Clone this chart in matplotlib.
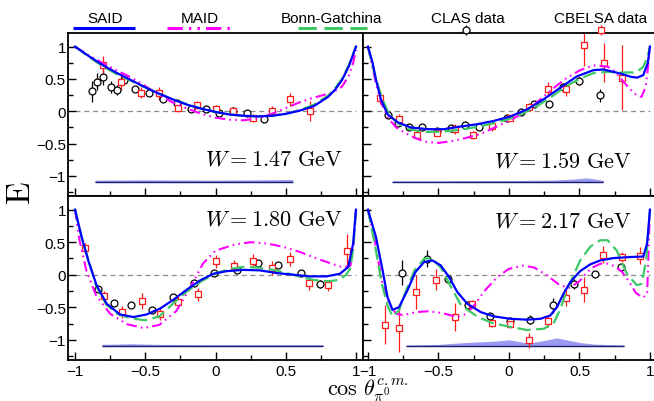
import numpy as np
import matplotlib
matplotlib.use("Agg")
import matplotlib.pyplot as plt
from matplotlib.ticker import MultipleLocator, FuncFormatter

# ---------------- data ----------------
W_LABELS = ["1.47", "1.59", "1.80", "2.17"]
LEGEND_LABELS = ["SAID", "MAID", "Bonn-Gatchina", "CLAS data", "CBELSA data"]
SYST_BASE = -1.1

# W = 1.47 GeV
SAID_147_X = [-1, -0.9, -0.8, -0.7, -0.6, -0.5, -0.4, -0.3, -0.2, -0.1, 0, 0.1, 0.2, 0.3, 0.4, 0.5, 0.6, 0.7, 0.8, 0.85, 0.9, 0.95, 1.0]
SAID_147_Y = [1.0, 0.85, 0.71, 0.59, 0.48, 0.37, 0.27, 0.18, 0.10, 0.04, -0.01, -0.05, -0.07, -0.08, -0.07, -0.04, 0.01, 0.08, 0.22, 0.33, 0.48, 0.70, 1.0]
MAID_147_X = [-1, -0.9, -0.8, -0.7, -0.6, -0.5, -0.4, -0.3, -0.2, -0.1, 0, 0.1, 0.2, 0.3, 0.4, 0.5, 0.6, 0.7, 0.8, 0.85, 0.9, 0.95, 0.98, 1.0]
MAID_147_Y = [1.0, 0.86, 0.74, 0.63, 0.52, 0.39, 0.25, 0.13, 0.04, -0.04, -0.10, -0.13, -0.14, -0.11, -0.04, 0.05, 0.14, 0.21, 0.27, 0.31, 0.38, 0.55, 0.75, 0.95]
BNGA_147_X = [-1, -0.9, -0.8, -0.7, -0.6, -0.5, -0.4, -0.3, -0.2, -0.1, 0, 0.1, 0.2, 0.3, 0.4, 0.5, 0.6, 0.7, 0.8, 0.85, 0.9, 0.95, 1.0]
BNGA_147_Y = [1.0, 0.84, 0.69, 0.57, 0.47, 0.37, 0.27, 0.18, 0.11, 0.04, -0.01, -0.05, -0.07, -0.08, -0.07, -0.04, 0.02, 0.10, 0.24, 0.35, 0.50, 0.72, 1.0]
CLAS_147_X = [-0.881, -0.841, -0.798, -0.746, -0.699, -0.651, -0.573, -0.473, -0.376, -0.276, -0.177, -0.07, 0.025, 0.127, 0.222, 0.345]
CLAS_147_Y = [0.31, 0.457, 0.528, 0.38, 0.328, 0.48, 0.338, 0.277, 0.185, 0.13, 0.03, 0.04, -0.02, 0.005, -0.02, -0.123]
CLAS_147_E = [0.16, 0.13, 0.12, 0.09, 0.08, 0.05, 0.04, 0.03, 0.03, 0.03, 0.03, 0.03, 0.03, 0.03, 0.03, 0.03]
CB_147_X = [-0.798, -0.67, -0.532, -0.40, -0.265, -0.13, 0.004, 0.127, 0.269, 0.40, 0.53, 0.673]
CB_147_Y = [0.72, 0.45, 0.288, 0.28, 0.056, 0.092, 0.04, 0.005, -0.10, 0.005, 0.185, 0.005]
CB_147_E = [0.14, 0.12, 0.08, 0.10, 0.06, 0.06, 0.06, 0.05, 0.06, 0.07, 0.10, 0.15]
SYST_147_X = [-0.858, -0.5, 0.0, 0.3, 0.549]
SYST_147_Y = [0.035, 0.04, 0.035, 0.04, 0.045]

# W = 1.59 GeV
SAID_159_X = [-1, -0.967, -0.943, -0.908, -0.861, -0.79, -0.696, -0.578, -0.46, -0.343, -0.225, -0.107, 0.011, 0.129, 0.246, 0.364, 0.482, 0.6, 0.67, 0.788, 0.87, 0.91, 0.953, 0.985, 1.0]
SAID_159_Y = [1.0, 0.75, 0.49, 0.185, -0.046, -0.17, -0.25, -0.277, -0.277, -0.236, -0.2, -0.149, -0.08, 0.03, 0.185, 0.364, 0.54, 0.636, 0.646, 0.585, 0.53, 0.52, 0.56, 0.75, 1.0]
MAID_159_X = [-1, -0.97, -0.94, -0.9, -0.85, -0.8, -0.7, -0.6, -0.5, -0.4, -0.3, -0.2, -0.1, 0.0, 0.1, 0.2, 0.3, 0.4, 0.5, 0.6, 0.7, 0.75, 0.8, 0.85, 0.9, 0.94, 0.97, 0.99, 1.0]
MAID_159_Y = [1.0, 0.70, 0.40, 0.10, -0.12, -0.25, -0.38, -0.47, -0.49, -0.46, -0.41, -0.35, -0.25, -0.15, -0.03, 0.14, 0.33, 0.50, 0.63, 0.71, 0.69, 0.62, 0.49, 0.36, 0.26, 0.22, 0.38, 0.75, 1.0]
BNGA_159_X = [-1, -0.97, -0.94, -0.9, -0.85, -0.78, -0.7, -0.6, -0.5, -0.4, -0.3, -0.2, -0.1, 0.0, 0.1, 0.2, 0.3, 0.4, 0.5, 0.6, 0.7, 0.8, 0.9, 0.95, 0.98, 1.0]
BNGA_159_Y = [1.0, 0.72, 0.47, 0.20, -0.05, -0.20, -0.28, -0.32, -0.32, -0.30, -0.27, -0.23, -0.18, -0.12, -0.03, 0.08, 0.22, 0.38, 0.50, 0.59, 0.61, 0.60, 0.60, 0.68, 0.82, 1.0]
CLAS_159_X = [-0.856, -0.79, -0.708, -0.614, -0.512, -0.41, -0.315, -0.213, -0.013, 0.086, 0.18, 0.281, 0.38, 0.50, 0.647]
CLAS_159_Y = [-0.06, -0.185, -0.24, -0.25, -0.30, -0.26, -0.21, -0.24, -0.11, -0.01, 0.12, 0.12, 0.38, 0.47, 0.25]
CLAS_159_E = [0.03, 0.03, 0.03, 0.03, 0.03, 0.03, 0.03, 0.03, 0.03, 0.03, 0.03, 0.04, 0.05, 0.06, 0.10]
CB_159_X = [-0.913, -0.779, -0.654, -0.512, -0.385, -0.256, -0.119, 0.011, 0.14, 0.274, 0.404, 0.534, 0.675, 0.804]
CB_159_Y = [0.21, -0.123, -0.37, -0.33, -0.27, -0.37, -0.23, -0.10, 0.07, 0.35, 0.34, 1.03, 0.75, 0.52]
CB_159_E = [0.10, 0.08, 0.06, 0.06, 0.08, 0.06, 0.08, 0.05, 0.06, 0.11, 0.10, 0.33, 0.30, 0.50]
SYST_159_X = [-0.826, -0.5, 0.0, 0.3, 0.45, 0.55, 0.62, 0.67]
SYST_159_Y = [0.025, 0.025, 0.03, 0.035, 0.05, 0.07, 0.05, 0.03]

# W = 1.80 GeV
SAID_180_X = [-1, -0.953, -0.906, -0.846, -0.775, -0.68, -0.585, -0.49, -0.395, -0.3, -0.205, -0.11, -0.016, 0.079, 0.198, 0.317, 0.435, 0.554, 0.673, 0.79, 0.886, 0.945, 0.98, 1.0]
SAID_180_Y = [1.0, 0.58, 0.22, -0.164, -0.446, -0.61, -0.65, -0.61, -0.52, -0.385, -0.23, -0.087, 0.015, 0.055, 0.075, 0.067, 0.026, 0.0, -0.025, -0.025, 0.015, 0.12, 0.48, 1.0]
MAID_180_X = [-1, -0.97, -0.92, -0.85, -0.75, -0.63, -0.51, -0.4, -0.28, -0.18, -0.09, 0.0, 0.13, 0.25, 0.37, 0.48, 0.6, 0.72, 0.84, 0.91, 0.96, 0.98, 1.0]
MAID_180_Y = [1.0, 0.55, 0.07, -0.32, -0.60, -0.76, -0.82, -0.77, -0.56, -0.20, 0.17, 0.37, 0.46, 0.50, 0.48, 0.43, 0.35, 0.25, 0.16, 0.11, 0.14, 0.37, 1.0]
BNGA_180_X = [-1, -0.95, -0.9, -0.85, -0.78, -0.7, -0.6, -0.5, -0.4, -0.3, -0.2, -0.1, 0.0, 0.1, 0.2, 0.3, 0.4, 0.5, 0.6, 0.7, 0.8, 0.88, 0.93, 0.96, 0.98, 1.0]
BNGA_180_Y = [1.0, 0.55, 0.20, -0.17, -0.45, -0.60, -0.67, -0.70, -0.64, -0.44, -0.25, -0.10, 0.02, 0.09, 0.12, 0.11, 0.08, 0.03, -0.03, -0.08, -0.10, -0.08, 0.0, 0.10, 0.40, 1.0]
CLAS_180_X = [-0.834, -0.722, -0.601, -0.45, -0.30, -0.151, -0.008, 0.155, 0.30, 0.447, 0.606, 0.744]
CLAS_180_Y = [-0.215, -0.43, -0.47, -0.54, -0.34, -0.123, 0.026, 0.077, 0.185, 0.144, 0.026, -0.138]
CLAS_180_E = [0.03, 0.03, 0.03, 0.03, 0.03, 0.03, 0.03, 0.03, 0.03, 0.03, 0.04, 0.06]
CB_180_X = [-0.929, -0.791, -0.668, -0.525, -0.395, -0.265, -0.127, 0.004, 0.132, 0.269, 0.40, 0.53, 0.668, 0.803, 0.934]
CB_180_Y = [0.415, -0.32, -0.57, -0.405, -0.60, -0.42, -0.30, 0.205, 0.13, 0.215, 0.108, 0.246, -0.128, -0.164, 0.364]
CB_180_E = [0.08, 0.07, 0.09, 0.12, 0.10, 0.09, 0.10, 0.10, 0.09, 0.10, 0.11, 0.11, 0.10, 0.09, 0.26]
SYST_180_X = [-0.81, -0.6, -0.4, 0.0, 0.4, 0.767]
SYST_180_Y = [0.03, 0.04, 0.03, 0.025, 0.025, 0.025]

# W = 2.17 GeV
SAID_217_X = [-1, -0.943, -0.896, -0.861, -0.826, -0.78, -0.72, -0.664, -0.602, -0.543, -0.484, -0.425, -0.366, -0.295, -0.2, -0.107, 0.011, 0.129, 0.223, 0.293, 0.34, 0.387, 0.435, 0.505, 0.576, 0.647, 0.74, 0.859, 0.953, 0.98, 1.0]
SAID_217_Y = [1.0, 0.58, 0.067, -0.343, -0.54, -0.50, -0.24, 0.04, 0.195, 0.22, 0.144, -0.036, -0.266, -0.446, -0.574, -0.64, -0.677, -0.69, -0.677, -0.626, -0.50, -0.29, -0.113, 0.056, 0.159, 0.22, 0.256, 0.272, 0.28, 0.48, 1.0]
MAID_217_X = [-1, -0.95, -0.9, -0.85, -0.8, -0.75, -0.66, -0.57, -0.47, -0.37, -0.3, -0.25, -0.17, -0.08, 0.0, 0.1, 0.18, 0.27, 0.36, 0.43, 0.5, 0.55, 0.6, 0.65, 0.7, 0.75, 0.8, 0.85, 0.9, 0.95, 0.98, 1.0]
MAID_217_Y = [1.0, 0.5, -0.1, -0.45, -0.60, -0.62, -0.575, -0.56, -0.59, -0.65, -0.60, -0.48, -0.24, -0.03, 0.09, 0.14, 0.11, -0.01, -0.16, -0.20, -0.10, 0.03, 0.12, 0.17, 0.17, 0.13, 0.05, -0.10, -0.28, -0.35, -0.30, 1.0]
BNGA_217_X = [-1, -0.95, -0.9, -0.86, -0.826, -0.78, -0.74, -0.67, -0.6, -0.543, -0.48, -0.41, -0.34, -0.22, -0.107, 0.011, 0.129, 0.246, 0.316, 0.364, 0.41, 0.458, 0.505, 0.576, 0.647, 0.7, 0.765, 0.836, 0.906, 0.94, 0.973, 1.0]
BNGA_217_Y = [1.0, 0.45, -0.15, -0.48, -0.64, -0.55, -0.30, 0.067, 0.25, 0.25, 0.10, -0.19, -0.47, -0.65, -0.75, -0.80, -0.85, -0.83, -0.75, -0.53, -0.24, -0.01, 0.22, 0.43, 0.53, 0.53, 0.37, 0.015, -0.16, -0.14, 0.22, 1.0]
CLAS_217_X = [-0.755, -0.578, -0.432, -0.291, -0.136, 0.011, 0.147, 0.312, 0.458, 0.607, 0.793]
CLAS_217_Y = [0.03, 0.246, -0.06, -0.46, -0.64, -0.71, -0.69, -0.47, -0.138, 0.015, 0.118]
CLAS_217_E = [0.19, 0.13, 0.07, 0.05, 0.05, 0.05, 0.07, 0.12, 0.08, 0.05, 0.05]
CB_217_X = [-0.88, -0.783, -0.662, -0.515, -0.385, -0.26, -0.119, 0.011, 0.14, 0.277, 0.406, 0.534, 0.67, 0.804, 0.929]
CB_217_Y = [-0.77, -0.82, -0.266, -0.077, -0.65, -0.446, -0.74, -0.76, -1.01, -0.718, -0.354, -0.23, 0.308, 0.272, 0.29]
CB_217_E = [0.30, 0.36, 0.26, 0.16, 0.21, 0.06, 0.07, 0.06, 0.11, 0.09, 0.13, 0.19, 0.13, 0.07, 0.13]
SYST_217_X = [-0.731, -0.5, -0.3, -0.1, 0.0, 0.14, 0.25, 0.34, 0.5, 0.6, 0.816]
SYST_217_Y = [0.02, 0.03, 0.06, 0.08, 0.10, 0.05, 0.09, 0.13, 0.06, 0.035, 0.02]

PANELS = [
    (SAID_147_X, SAID_147_Y, MAID_147_X, MAID_147_Y, BNGA_147_X, BNGA_147_Y,
     CLAS_147_X, CLAS_147_Y, CLAS_147_E, CB_147_X, CB_147_Y, CB_147_E, SYST_147_X, SYST_147_Y),
    (SAID_159_X, SAID_159_Y, MAID_159_X, MAID_159_Y, BNGA_159_X, BNGA_159_Y,
     CLAS_159_X, CLAS_159_Y, CLAS_159_E, CB_159_X, CB_159_Y, CB_159_E, SYST_159_X, SYST_159_Y),
    (SAID_180_X, SAID_180_Y, MAID_180_X, MAID_180_Y, BNGA_180_X, BNGA_180_Y,
     CLAS_180_X, CLAS_180_Y, CLAS_180_E, CB_180_X, CB_180_Y, CB_180_E, SYST_180_X, SYST_180_Y),
    (SAID_217_X, SAID_217_Y, MAID_217_X, MAID_217_Y, BNGA_217_X, BNGA_217_Y,
     CLAS_217_X, CLAS_217_Y, CLAS_217_E, CB_217_X, CB_217_Y, CB_217_E, SYST_217_X, SYST_217_Y),
]

# ---------------- style ----------------
plt.rcParams['font.family'] = ['Liberation Sans', 'DejaVu Sans']
plt.rcParams['mathtext.fontset'] = 'cm'
plt.rcParams['axes.unicode_minus'] = True

C_SAID = '#0000ff'
C_MAID = '#ff00ff'
C_BNGA = '#3cc864'
MAID_DASH = (5, 2, 0.8, 2, 0.8, 2)
BNGA_DASH = (6, 2.5)

FW, FH = 654, 402
fig = plt.figure(figsize=(FW / 100, FH / 100), dpi=100, facecolor='white')


def add_ax(x0, y0, x1, y1):
    return fig.add_axes([x0 / FW, 1 - y1 / FH, (x1 - x0) / FW, (y1 - y0) / FH])


boxes = [(68, 34, 363, 197), (363, 34, 657, 197), (68, 197, 363, 361), (363, 197, 657, 361)]
xlims = [(-1.05, 1.05), (-1.035, 1.05), (-1.05, 1.05), (-1.035, 1.05)]
label_pos = [(0.929, 0.196), (0.915, 0.184), (0.929, 0.829), (0.915, 0.811)]

fmt = FuncFormatter(lambda v, p: ('%g' % v).replace('-', '\u2212'))

for i, (box, data) in enumerate(zip(boxes, PANELS)):
    (sx, sy, mx, my, bx, by, cx, cy, ce, kx, ky, ke, tx, ty) = data
    ax = add_ax(*box)
    ax.set_xlim(*xlims[i])
    ax.set_ylim(-1.31, 1.21)
    for sp in ax.spines.values():
        sp.set_linewidth(1.3)
    ax.xaxis.set_major_locator(MultipleLocator(0.5))
    ax.xaxis.set_minor_locator(MultipleLocator(0.25))
    ax.yaxis.set_major_locator(MultipleLocator(0.5))
    ax.yaxis.set_minor_locator(MultipleLocator(0.25))
    ax.tick_params(which='both', direction='in', top=False, right=False,
                   labelsize=11, width=1.0, colors='black')
    ax.tick_params(which='major', length=6.0)
    ax.tick_params(which='minor', length=3.6)
    ax.tick_params(axis='y', pad=1.5)
    ax.tick_params(axis='x', pad=3)
    ax.xaxis.set_major_formatter(fmt)
    ax.yaxis.set_major_formatter(fmt)
    if i < 2:
        ax.tick_params(axis='x', labelbottom=False)
    if i % 2 == 1:
        ax.tick_params(axis='y', labelleft=False)

    # zero line
    ax.hlines(0, -1, 1, colors='#8c8c8c', linestyles=(0, (4, 3)), linewidth=0.9, zorder=1)

    # systematic band
    ty_top = [SYST_BASE + v for v in ty]
    ax.fill_between(tx, SYST_BASE, ty_top, color='#9a9aee', linewidth=0, zorder=1)
    ax.hlines(SYST_BASE, tx[0], tx[-1], colors='#1a1a70', linewidth=1.0, zorder=1.5)

    # data
    ax.errorbar(cx, cy, yerr=ce, fmt='o', ms=5, mfc='white', mec='black', mew=0.9,
                ecolor='black', elinewidth=0.9, capsize=0, zorder=2)
    ax.errorbar(kx, ky, yerr=ke, fmt='s', ms=5, mfc='white', mec='#ff1a1a', mew=0.9,
                ecolor='#ff1a1a', elinewidth=0.9, capsize=0, zorder=2)

    # models
    ax.plot(mx, my, color=C_MAID, lw=1.5, dashes=MAID_DASH, zorder=3)
    ax.plot(bx, by, color=C_BNGA, lw=1.6, dashes=BNGA_DASH, zorder=3.5)
    ax.plot(sx, sy, color=C_SAID, lw=1.6, zorder=4)

    ax.text(label_pos[i][0], label_pos[i][1], r'$W = %s\ \mathrm{GeV}$' % W_LABELS[i],
            transform=ax.transAxes, ha='right', va='baseline', fontsize=16, zorder=6)

# axis titles
fig.text(22 / FW, 1 - 193 / FH, r'$\mathrm{E}$', rotation=90, fontsize=24,
         ha='center', va='center')
fig.text(327 / FW, 1 - 396 / FH, r'$\cos\,\theta^{c.m.}_{\pi^{0}}$', fontsize=16,
         ha='left', va='baseline')

# legend overlay
lg = fig.add_axes([0, 0, 1, 1], zorder=10)
lg.set_xlim(0, FW)
lg.set_ylim(FH, 0)
lg.axis('off')
lg.patch.set_visible(False)
ly = 29
lg.plot([73, 135], [ly, ly], color=C_SAID, lw=2.2, solid_capstyle='butt')
lg.plot([167, 230], [ly, ly], color=C_MAID, lw=2.2, dashes=MAID_DASH)
lg.plot([298, 367], [ly, ly], color=C_BNGA, lw=2.2, dashes=BNGA_DASH)
lg.errorbar([466], [31], yerr=[5], fmt='o', ms=5, mfc='white', mec='black', mew=0.9,
            ecolor='black', elinewidth=0.9, capsize=0)
lg.errorbar([601], [31], yerr=[5], fmt='s', ms=5, mfc='white', mec='#ff1a1a', mew=0.9,
            ecolor='#ff1a1a', elinewidth=0.9, capsize=0)
for lab, xc in zip(LEGEND_LABELS, [105, 200, 332, 468, 601]):
    lg.text(xc, 19, lab, ha='center', va='center', fontsize=11)

fig.savefig('out.png', dpi=100, facecolor='white')
